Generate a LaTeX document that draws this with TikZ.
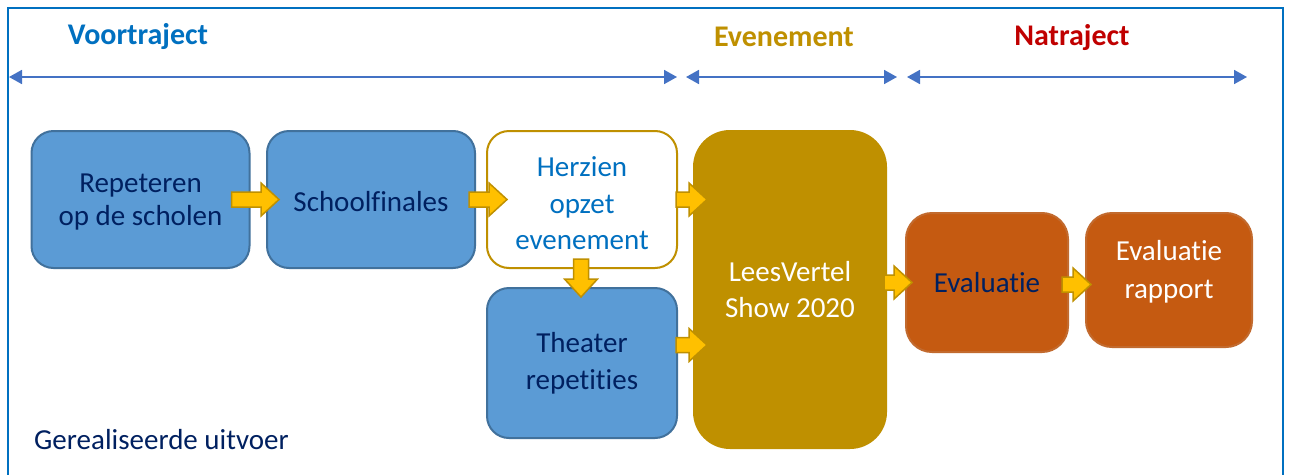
\documentclass[tikz,border=0pt]{standalone}
\usepackage{fontspec}
\setmainfont{Carlito}[Ligatures=NoCommon]
\usetikzlibrary{arrows.meta,calc}
\definecolor{frameblue}{HTML}{0070C0}
\definecolor{phaseblue}{HTML}{4472C4}
\definecolor{boxblue}{HTML}{5B9BD5}
\definecolor{boxblueline}{HTML}{41719C}
\definecolor{navy}{HTML}{002060}
\definecolor{gold}{HTML}{BF9000}
\definecolor{ambery}{HTML}{FFC000}
\definecolor{rust}{HTML}{C55A11}
\definecolor{rustline}{HTML}{C26A2E}
\definecolor{darkred}{HTML}{C00000}
\newcommand\hblock[2]{\draw[yarrow] let \p1=(#1),\p2=(#2) in
  (\x1,\y1+7.5pt) -- (\x2-18pt,\y1+7.5pt) -- (\x2-18pt,\y1+16.5pt) -- (\x2,\y1)
  -- (\x2-18pt,\y1-16.5pt) -- (\x2-18pt,\y1-7.5pt) -- (\x1,\y1-7.5pt) -- cycle;}
\newcommand\vblock[2]{\draw[yarrow] let \p1=(#1),\p2=(#2) in
  (\x1-7.5pt,\y1) -- (\x1-7.5pt,\y2+18pt) -- (\x1-16.5pt,\y2+18pt) -- (\x1,\y2)
  -- (\x1+16.5pt,\y2+18pt) -- (\x1+7.5pt,\y2+18pt) -- (\x1+7.5pt,\y1) -- cycle;}
\begin{document}
\begin{tikzpicture}[x=1pt,y=-1pt,
  box/.style={line width=2pt, inner sep=0pt, rounded corners=22pt},
  bluebox/.style={box, fill=boxblue, draw=boxblueline},
  whitebox/.style={box, fill=white, draw=gold},
  goldbox/.style={box, fill=gold, draw=gold, rounded corners=36pt},
  rustbox/.style={box, fill=rust, draw=rustline, rounded corners=26pt},
  txt/.style={align=center, inner sep=0pt, font=\fontsize{29}{36}\selectfont},
  yarrow/.style={fill=ambery, draw=gold, line width=1.5pt, line join=miter},
  phase/.style={draw=phaseblue, line width=1.8pt, {Triangle[length=13pt,width=14pt]}-{Triangle[length=13pt,width=14pt]}},
  head/.style={font=\fontsize{30}{34}\selectfont\bfseries},
]
\useasboundingbox (0,0) rectangle (1289,474);
\fill[white] (0,0) rectangle (1289,474);
% frame
\draw[frameblue, line width=1.8pt] (8,480) -- (8,8) -- (1283,8) -- (1283,480);
% phase labels
\node[head, text=frameblue] (vt) at (138,37) {Voortraject};
\node[head, text=gold] (ev) at (784,37) {Evenement};
\node[head, text=darkred] (nt) at (1072,38) {Natraject};
% phase arrows
\coordinate (p1a) at (9,77); \coordinate (p1b) at (677,77);
\coordinate (p2a) at (686,77); \coordinate (p2b) at (897,77);
\coordinate (p3a) at (907,77); \coordinate (p3b) at (1247,77);
\draw[phase] (p1a) -- (p1b);
\draw[phase] (p2a) -- (p2b);
\draw[phase] (p3a) -- (p3b);
% boxes
\node[bluebox, minimum width=218pt, minimum height=137pt] (rep) at (140.5,199.5) {};
\node[bluebox, minimum width=208pt, minimum height=137pt] (sch) at (371,199.5) {};
\node[whitebox, minimum width=190pt, minimum height=137pt] (herz) at (582,199.5) {};
\node[bluebox, minimum width=190pt, minimum height=150pt] (th) at (582,363) {};
\node[goldbox, minimum width=192pt, minimum height=317pt] (lees) at (790,289.5) {};
\node[rustbox, minimum width=162pt, minimum height=139pt] (eval) at (987,282.5) {};
\node[rustbox, minimum width=166pt, minimum height=134pt] (rap) at (1169,280) {};
% texts
\node[txt, text=navy, font=\fontsize{29}{33}\selectfont] (rep-t) at ($(rep.center)+(0,3)$) {Repeteren\\op de scholen};
\node[txt, text=navy] (sch-t) at ($(sch.center)+(0,2)$) {Schoolfinales};
\node[txt, text=frameblue, font=\fontsize{29}{36.5}\selectfont] (herz-t) at ($(herz.center)+(0,4)$) {Herzien\\opzet\\evenement};
\node[txt, text=navy, font=\fontsize{29}{37}\selectfont] (th-t) at (th.center) {Theater\\repetities};
\node[txt, text=white] (lees-t) at (lees.center) {LeesVertel\\Show 2020};
\node[txt, text=navy] (eval-t) at (eval.center) {Evaluatie};
\node[txt, text=white, font=\fontsize{29}{38}\selectfont] (rap-t) at ($(rap.center)+(0,-8)$) {Evaluatie\\rapport};
% block arrows
\hblock{$(rep.east)+(-19,0)$}{$(sch.west)+(13,0)$}
\hblock{$(sch.east)+(-7,0)$}{$(herz.west)+(21,0)$}
\hblock{$(herz.east)+(-2,0)$}{$(lees.west |- herz.east)+(14,0)$}
\hblock{$(th.east)+(-2,-18)$}{$(lees.west |- th.east)+(14,-18)$}
\vblock{$(herz.south)+(-1,-10)$}{$(th.north)+(-1,10)$}
\hblock{$(lees.east |- eval.west)+(-3,0)$}{$(eval.west)+(7,0)$}
\hblock{$(eval.east)+(-7,2)$}{$(rap.west |- eval.east)+(6,2)$}
% footer
\node[anchor=west, text=navy, font=\fontsize{29}{34}\selectfont, inner sep=0pt] (ger) at (34,440) {Gerealiseerde uitvoer};
\end{tikzpicture}
\end{document}
